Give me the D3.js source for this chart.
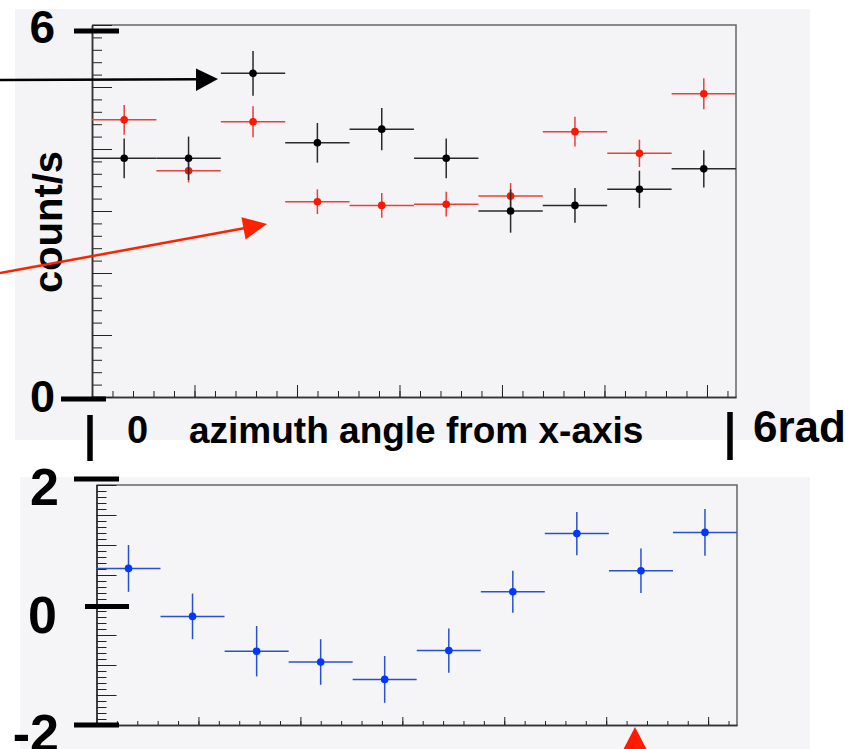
<!DOCTYPE html>
<html>
<head>
<meta charset="utf-8">
<script src="https://cdn.jsdelivr.net/npm/d3@7"></script>
<style>
  html, body { margin: 0; padding: 0; background: #fff; }
  svg { display: block; font-family: "Liberation Sans", Arial, sans-serif; font-weight: bold; }
</style>
</head>
<body>
<div id="chart"></div>
<script>
// bins of the azimuth angle (rad), 10 bins over 0..2pi
const binCenters = [0.314, 0.942, 1.571, 2.199, 2.827, 3.456, 4.084, 4.712, 5.341, 5.969];
const binHalf = 0.314;

// top panel, count/s
const blackValues = [3.85, 3.85, 5.22, 4.10, 4.32, 3.85, 3.00, 3.09, 3.35, 3.68];
const blackErrors = [0.32, 0.35, 0.36, 0.32, 0.34, 0.32, 0.35, 0.28, 0.30, 0.30];
const redValues   = [4.47, 3.65, 4.44, 3.15, 3.09, 3.11, 3.24, 4.28, 3.93, 4.89];
const redErrors   = [0.24, 0.19, 0.25, 0.20, 0.20, 0.20, 0.21, 0.24, 0.22, 0.25];

// bottom panel
const blueValues = [0.61, -0.19, -0.77, -0.95, -1.24, -0.76, 0.22, 1.19, 0.57, 1.21];
const blueErrors = [0.39, 0.38, 0.42, 0.38, 0.39, 0.37, 0.35, 0.36, 0.37, 0.39];

const width = 855, height = 749;

const svg = d3.select("#chart").append("svg")
    .attr("width", width)
    .attr("height", height);

// gray pads
svg.append("rect").attr("x", 15).attr("y", 9).attr("width", 795).attr("height", 431).attr("fill", "#f4f3f5");
svg.append("rect").attr("x", 20).attr("y", 477).attr("width", 790).attr("height", 280).attr("fill", "#f5f4f6");

const xTop = d3.scaleLinear().domain([0, 2 * Math.PI]).range([92, 736]);
const yTop = d3.scaleLinear().domain([0, 6]).range([397, 25]);
const xBot = d3.scaleLinear().domain([0, 2 * Math.PI]).range([96.5, 737]);
const yBot = d3.scaleLinear().domain([-2, 2]).range([725, 485]);

function drawFrame(x, y, yMajor, yMinor, yMaj, yMin, xMaj, xMin) {
    const g = svg.append("g");
    const [x0, x1] = x.range();
    const [y0, y1] = y.range();
    // top / right frame
    g.append("path")
        .attr("d", `M${x0},${y1}H${x1}V${y0}`)
        .attr("fill", "none").attr("stroke", "#666").attr("stroke-width", 1.5);

    const xMinorTicks = d3.range(0, 6.21, 0.2);
    const xMajorTicks = d3.range(0, 7, 1);
    g.append("g").attr("transform", `translate(0,${y0})`)
        .call(d3.axisBottom(x).tickValues(xMinorTicks).tickSize(-xMin).tickSizeOuter(0).tickFormat(""));
    g.append("g").attr("transform", `translate(0,${y0})`)
        .call(d3.axisBottom(x).tickValues(xMajorTicks).tickSize(-xMaj).tickSizeOuter(0).tickFormat(""));
    g.append("g").attr("transform", `translate(${x0},0)`)
        .call(d3.axisLeft(y).tickValues(yMinor).tickSize(-yMin).tickSizeOuter(0).tickFormat(""));
    g.append("g").attr("transform", `translate(${x0},0)`)
        .call(d3.axisLeft(y).tickValues(yMajor).tickSize(-yMaj).tickSizeOuter(0).tickFormat(""));
    g.selectAll(".domain").attr("stroke", "#333").attr("stroke-width", 1.5);
    g.selectAll(".tick line").attr("stroke", "#222").attr("stroke-width", 1);
}

drawFrame(xTop, yTop,
    d3.range(0, 6.01, 1), d3.range(0, 6.01, 0.2), 20, 10, 12, 6);
drawFrame(xBot, yBot,
    d3.range(-2, 2.01, 0.5), d3.range(-2, 2.01, 0.1), 20, 10, 8, 4);

function drawSeries(x, y, values, errors, lineColor, dotColor) {
    const data = values.map((v, i) => ({ c: binCenters[i], v: v, e: errors[i] }));
    const g = svg.append("g");
    g.selectAll(".h").data(data).join("line")
        .attr("x1", d => x(d.c - binHalf)).attr("x2", d => x(d.c + binHalf))
        .attr("y1", d => y(d.v)).attr("y2", d => y(d.v))
        .attr("stroke", lineColor).attr("stroke-width", 1.5);
    g.selectAll(".v").data(data).join("line")
        .attr("x1", d => x(d.c)).attr("x2", d => x(d.c))
        .attr("y1", d => y(d.v - d.e)).attr("y2", d => y(d.v + d.e))
        .attr("stroke", lineColor).attr("stroke-width", 1.5);
    g.selectAll("circle").data(data).join("circle")
        .attr("cx", d => x(d.c)).attr("cy", d => y(d.v))
        .attr("r", 3.8).attr("fill", dotColor);
}

drawSeries(xTop, yTop, redValues, redErrors, "#e8403a", "#ff1500");
drawSeries(xTop, yTop, blackValues, blackErrors, "#2a2a2a", "#000");
drawSeries(xBot, yBot, blueValues, blueErrors, "#2a50d0", "#0038ff");

// big hand-drawn ticks and labels
const marks = [
    [74, 119, 31], [61, 106, 399], [74, 119, 479], [85, 129, 606.5], [74, 119, 725]
];
svg.selectAll(".bigtick").data(marks).join("line")
    .attr("x1", d => d[0]).attr("x2", d => d[1])
    .attr("y1", d => d[2]).attr("y2", d => d[2])
    .attr("stroke", "#000").attr("stroke-width", 5);

svg.append("line").attr("x1", 90).attr("x2", 90).attr("y1", 415).attr("y2", 461)
    .attr("stroke", "#000").attr("stroke-width", 5.5);
svg.append("line").attr("x1", 730).attr("x2", 730).attr("y1", 412).attr("y2", 460)
    .attr("stroke", "#000").attr("stroke-width", 5.5);

const bigLabels = [
    { t: "6", x: 55, y: 43, s: 46 },
    { t: "0", x: 55, y: 411.5, s: 45 },
    { t: "2", x: 59, y: 505, s: 52 },
    { t: "0", x: 57, y: 633, s: 52 },
    { t: "-2", x: 59, y: 751, s: 52 }
];
svg.selectAll(".biglabel").data(bigLabels).join("text")
    .attr("x", d => d.x).attr("y", d => d.y)
    .attr("text-anchor", "end")
    .attr("font-size", d => d.s)
    .text(d => d.t);

svg.append("text").attr("x", 127).attr("y", 443).attr("font-size", 38).text("0");
svg.append("text").attr("x", 189).attr("y", 443).attr("font-size", 37).text("azimuth angle from x-axis");
svg.append("text").attr("x", 753).attr("y", 441.5).attr("font-size", 44).text("6rad");
svg.append("text")
    .attr("transform", "translate(62,222) rotate(-90)")
    .attr("text-anchor", "middle")
    .attr("font-size", 40)
    .text("count/s");

// arrows
svg.append("line").attr("x1", 0).attr("y1", 80).attr("x2", 200).attr("y2", 79.3)
    .attr("stroke", "#000").attr("stroke-width", 2.5);
svg.append("polygon").attr("points", "218,79 196,68.5 196,91").attr("fill", "#000");

svg.append("line").attr("x1", 0).attr("y1", 273).attr("x2", 248).attr("y2", 227.5)
    .attr("stroke", "#ff2200").attr("stroke-width", 2.5);
svg.append("polygon").attr("points", "267,224 241.4,217.2 245.6,239.4").attr("fill", "#ff2200");

svg.append("polygon").attr("points", "635,727 622,752 648,752").attr("fill", "#ff1a00");
</script>
</body>
</html>
